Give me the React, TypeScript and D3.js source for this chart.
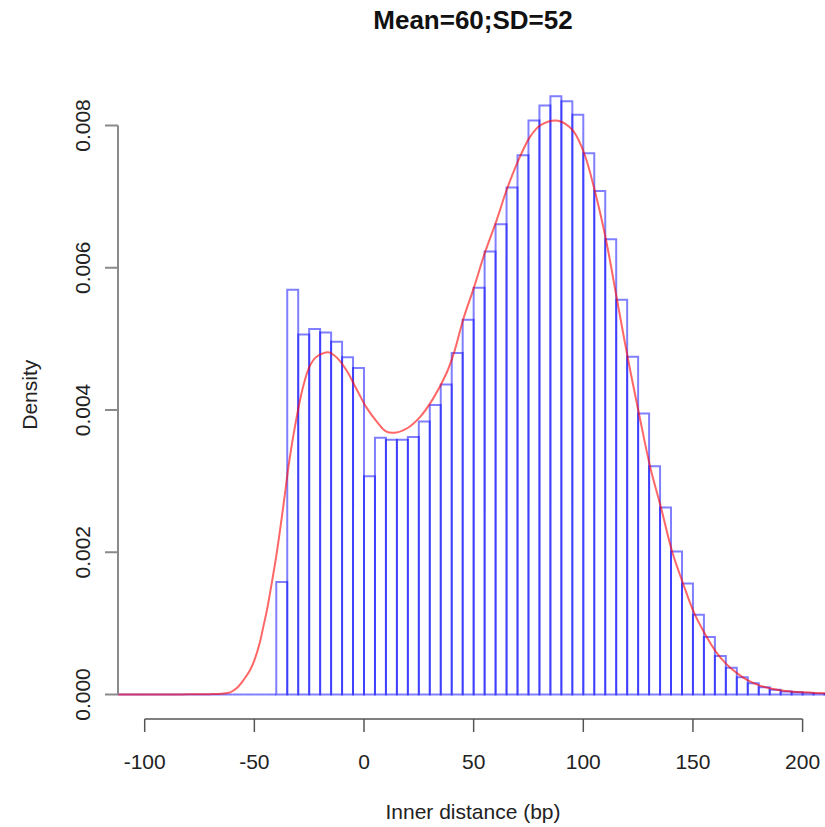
import * as d3 from "d3";

// histogram: left edge of each 5bp bin and its density
const binLefts = [
  -115, -110, -105, -100, -95, -90, -85, -80, -75, -70, -65, -60, -55, -50, -45,
  -40, -35, -30, -25, -20, -15, -10, -5, 0, 5, 10, 15, 20, 25, 30, 35, 40, 45,
  50, 55, 60, 65, 70, 75, 80, 85, 90, 95, 100, 105, 110, 115, 120, 125, 130,
  135, 140, 145, 150, 155, 160, 165, 170, 175, 180, 185, 190, 195, 200, 205, 210,
];
const binDensity = [
  0, 0, 0, 0, 0, 0, 0, 0, 0, 0, 0, 0, 0, 0, 0,
  0.00158, 0.00569, 0.00506, 0.00514, 0.00509, 0.00496, 0.00474, 0.00459,
  0.00307, 0.00361, 0.00358, 0.00358, 0.00362, 0.00384, 0.00407, 0.00436,
  0.0048, 0.00527, 0.00572, 0.00623, 0.00661, 0.00713, 0.00758, 0.00807,
  0.00828, 0.00841, 0.00834, 0.00815, 0.00761, 0.00708, 0.0064, 0.00555,
  0.00475, 0.00395, 0.00321, 0.00263, 0.00201, 0.00156, 0.00112, 0.00081,
  0.00054, 0.000375, 0.000243, 0.000159, 0.000103, 0.000066, 0.000042,
  0.000032, 0.000018, 0.00001, 0.000006,
];
const binWidth = 5;

// kernel density line
const densX = [
  -115, -90, -80, -70, -65, -61, -58, -55, -52, -50, -47.5, -46, -44.3, -43,
  -40, -37, -34, -31, -28, -25, -22, -18.5, -16, -12.5, -8, -3.5, 1, 6, 10, 14,
  19.5, 25.5, 31.5, 37.5, 41, 45.3, 50, 55, 60.5, 65, 70.4, 75.7, 80.3, 87.5,
  92, 95.5, 100.4, 105.5, 110.5, 115.5, 120.3, 125.5, 130.5, 135.5, 140.5,
  145.5, 150.5, 155.5, 160.5, 165.5, 170.5, 175.5, 180.5, 185.5, 190.5, 195.5,
  200.5, 205.5, 215,
];
const densY = [
  0, 0, 0.000002, 0.000005, 0.000012, 0.00003, 0.00009, 0.0002, 0.00034,
  0.00048, 0.00073, 0.00094, 0.00118, 0.0014, 0.00195, 0.0026, 0.0033, 0.00385,
  0.0043, 0.0046, 0.00474, 0.0048, 0.00481, 0.00474, 0.00456, 0.0043, 0.00404,
  0.00383, 0.0037, 0.00368, 0.00374, 0.0039, 0.00416, 0.00451, 0.0048,
  0.00528, 0.00571, 0.0062, 0.00667, 0.00709, 0.00751, 0.00784, 0.008, 0.00807,
  0.00802, 0.00792, 0.00761, 0.00705, 0.00637, 0.00553, 0.00473, 0.00393,
  0.0032, 0.00262, 0.00201, 0.00156, 0.00115, 0.00085, 0.0006, 0.00042,
  0.00029, 0.00019, 0.000125, 0.000085, 0.000055, 0.00004, 0.00003, 0.000022,
  0.000012,
];

const xTicks = [-100, -50, 0, 50, 100, 150, 200];
const yTicks = [0, 0.002, 0.004, 0.006, 0.008];

const title = "Mean=60;SD=52";
const xTitle = "Inner distance (bp)";
const yTitle = "Density";

export default function App() {
  const W = 825,
    H = 827;
  const font = "'Liberation Sans', Arial, Helvetica, sans-serif";

  const x = d3.scaleLinear().domain([-100, 200]).range([144.7, 802.6]);
  const y = d3.scaleLinear().domain([0, 0.008]).range([694.5, 125.5]);

  // plot region (R pads the ranges by 4%)
  const plot = { left: 118, right: 828, top: 71, bottom: 718.5 };

  const line = d3
    .line<number>()
    .x((_, i) => x(densX[i]))
    .y((d) => y(d))
    .curve(d3.curveCatmullRom.alpha(0.5));

  const fmtY = d3.format(".3f");

  return (
    <svg
      width={W}
      height={H}
      style={{ position: "absolute", left: 0, top: 0, background: "#fff" }}
      fontFamily={font}
    >
      <defs>
        <clipPath id="plotClip">
          <rect
            x={plot.left}
            y={plot.top}
            width={plot.right - plot.left}
            height={plot.bottom - plot.top}
          />
        </clipPath>
      </defs>

      {/* ── BARS ─────────────────────────────────── */}
      <g clipPath="url(#plotClip)" fill="none" stroke="rgba(0,0,255,0.5)" strokeWidth={2}>
        {binDensity.map((d, i) => {
          const x0 = x(binLefts[i]),
            x1 = x(binLefts[i] + binWidth),
            y0 = y(0),
            y1 = y(d);
          return <path key={i} d={`M${x0},${y0}V${y1}H${x1}V${y0}Z`} />;
        })}
      </g>

      {/* ── DENSITY LINE ─────────────────────────── */}
      <g clipPath="url(#plotClip)">
        <path
          d={line(densY) ?? ""}
          fill="none"
          stroke="rgba(255,0,0,0.6)"
          strokeWidth={2}
        />
      </g>

      {/* ── Y AXIS ───────────────────────────────── */}
      <g>
        <line
          x1={plot.left}
          x2={plot.left}
          y1={y(0)}
          y2={y(0.008)}
          stroke="#8a8a8a"
          strokeWidth={2}
        />
        {yTicks.map((t) => (
          <g key={t}>
            <line
              x1={plot.left - 13}
              x2={plot.left}
              y1={y(t)}
              y2={y(t)}
              stroke="#8a8a8a"
              strokeWidth={2}
            />
            <text
              transform={`translate(90,${y(t)}) rotate(-90)`}
              textAnchor="middle"
              fontSize={21}
              fill="#222"
            >
              {fmtY(t)}
            </text>
          </g>
        ))}
        <text
          transform={`translate(37,${(plot.top + plot.bottom) / 2}) rotate(-90)`}
          textAnchor="middle"
          fontSize={21}
          fill="#222"
        >
          {yTitle}
        </text>
      </g>

      {/* ── X AXIS ───────────────────────────────── */}
      <g>
        <line
          x1={x(-100)}
          x2={x(200)}
          y1={719}
          y2={719}
          stroke="#555"
          strokeWidth={1.5}
        />
        {xTicks.map((t) => (
          <g key={t}>
            <line
              x1={x(t)}
              x2={x(t)}
              y1={719}
              y2={732}
              stroke="#555"
              strokeWidth={1.5}
            />
            <text
              x={x(t)}
              y={769}
              textAnchor="middle"
              fontSize={21}
              fill="#222"
            >
              {t}
            </text>
          </g>
        ))}
        <text
          x={(plot.left + plot.right) / 2}
          y={819}
          textAnchor="middle"
          fontSize={21}
          fill="#222"
        >
          {xTitle}
        </text>
      </g>

      {/* ── TITLE ────────────────────────────────── */}
      <text
        x={(plot.left + plot.right) / 2}
        y={28.5}
        textAnchor="middle"
        fontSize={26}
        fontWeight="bold"
        fill="#111"
      >
        {title}
      </text>
    </svg>
  );
}
